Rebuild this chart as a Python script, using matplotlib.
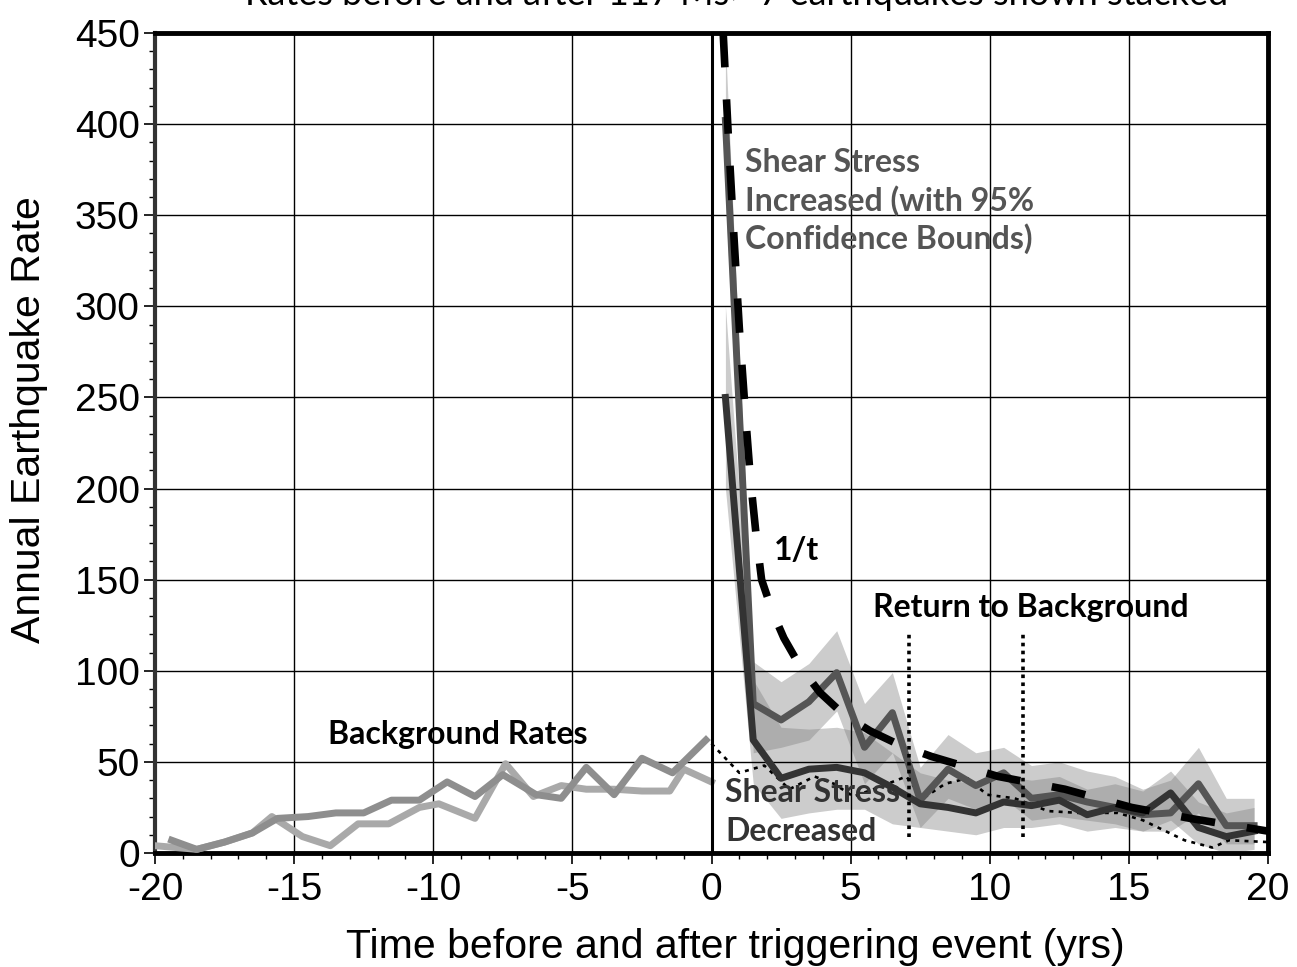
import matplotlib
matplotlib.use("Agg")
import matplotlib.pyplot as plt
from matplotlib.ticker import MultipleLocator

plt.rcParams['axes.unicode_minus'] = False

# background rates before the triggering event (two stacked sets)
bg_light_t = [-20, -18.5, -17.5, -16.5, -15.8, -14.7, -13.7, -12.7, -11.6, -10.5, -9.8,
              -8.5, -7.4, -6.4, -5.4, -4.5, -3.5, -2.5, -1.5, -1.0, 0.0]
bg_light_v = [4, 2, 6, 11, 20, 9, 4, 16, 16, 25, 27, 19, 49, 31, 37, 35, 35, 34, 34, 46, 39]
bg_dark_t = [-19.4, -18.5, -17.5, -16.5, -15.6, -14.5, -13.5, -12.5, -11.5, -10.5, -9.5,
             -8.5, -7.5, -6.3, -5.4, -4.5, -3.5, -2.5, -1.4, -0.2]
bg_dark_v = [7, 2, 6, 11, 19, 20, 22, 22, 29, 29, 39, 31, 43, 32, 30, 47, 32, 52, 44, 62]

# rates after the event, yearly bins
t_post = [0.5, 1.5, 2.5, 3.5, 4.5, 5.5, 6.5, 7.5, 8.5, 9.5,
          10.5, 11.5, 12.5, 13.5, 14.5, 15.5, 16.5, 17.5, 18.5, 19.5]
inc = [402, 82, 73, 83, 99, 58, 77, 29, 46, 37, 44, 30, 32, 28, 25, 21, 22, 38, 15, 15]
inc_up = [445, 105, 94, 104, 122, 82, 99, 47, 65, 55, 58, 48, 50, 45, 42, 35, 40, 58, 30, 30]
inc_lo = [360, 55, 58, 62, 78, 38, 55, 14, 30, 24, 30, 18, 20, 18, 16, 12, 12, 22, 5, 5]
dec = [250, 62, 41, 46, 47, 44, 36, 27, 25, 22, 28, 26, 29, 21, 25, 22, 33, 14, 9, 12]
dec_up = [300, 95, 69, 68, 69, 66, 55, 44, 40, 38, 42, 40, 42, 35, 38, 34, 45, 28, 22, 25]
dec_lo = [200, 38, 19, 22, 24, 24, 16, 14, 12, 10, 14, 14, 16, 12, 14, 12, 18, 5, 0, 2]

# 1/t decay curve
fit_t = [0.42, 0.6, 0.8, 1.0, 1.2, 1.4, 1.6, 1.8, 2.2, 2.6, 3.2, 3.9, 4.75, 5.7,
         6.8, 7.9, 9.0, 10.3, 12.7, 15.1, 17.2, 20.0]
fit_v = [450, 395, 340, 288, 245, 205, 175, 150, 132, 118, 102, 88, 76, 67,
         59, 53, 48, 42, 35, 25, 19, 12]

# thin dotted series
dot_t = [0.0, 1.0, 1.9, 2.8, 3.7, 4.4, 5.1, 6.0, 7.0, 7.6, 8.4, 9.2, 9.9, 10.9,
         12.1, 13.2, 14.6, 15.5, 17.0, 18.0, 18.6, 20.0]
dot_v = [60, 44, 48, 35, 42, 38, 31, 36, 42, 30, 38, 41, 32, 30,
         23, 22, 22, 18, 7, 3, 7, 6]

# "return to background" markers
return_t = [7.1, 11.2]

fig = plt.figure(figsize=(12.97, 9.67), dpi=100)
ax = fig.add_axes([155 / 1297, 1 - 853 / 967, 1113 / 1297, 820 / 967])

# confidence bands
ax.fill_between(t_post, dec_lo, dec_up, color='gray', alpha=0.4, lw=0, zorder=1)
ax.fill_between(t_post, inc_lo, inc_up, color='gray', alpha=0.4, lw=0, zorder=1)

ax.plot(bg_light_t, bg_light_v, color='#a9a9a9', lw=5, zorder=3)
ax.plot(bg_dark_t, bg_dark_v, color='#8e8e8e', lw=5, zorder=3)

ax.plot(dot_t, dot_v, color='black', lw=1.9, ls=(0, (1.5, 2)), zorder=3)
ax.plot(t_post, inc, color='#555555', lw=5, zorder=4)
ax.plot(t_post, dec, color='#333333', lw=5, zorder=4)
ax.plot(fit_t, fit_v, color='black', lw=5.5, ls=(0, (4.5, 4.2)), zorder=5)

for t in return_t:
    ax.plot([t, t], [9, 121], color='black', lw=2.6, ls=(0, (1, 1.2)), zorder=5)

ax.axvline(0, color='black', lw=2.2, zorder=5)

ax.set_xlim(-20, 20)
ax.set_ylim(0, 450)
ax.xaxis.set_major_locator(MultipleLocator(5))
ax.xaxis.set_minor_locator(MultipleLocator(1))
ax.yaxis.set_major_locator(MultipleLocator(50))
ax.yaxis.set_minor_locator(MultipleLocator(10))
ax.grid(which='major', color='black', lw=1.0)
ax.tick_params(which='major', direction='out', length=8, width=1.2, labelsize=28, pad=3)
ax.tick_params(axis='x', which='major', pad=6)
ax.tick_params(which='minor', direction='out', length=4, width=1.0)
for lab in ax.get_xticklabels() + ax.get_yticklabels():
    lab.set_family('Liberation Sans')

for side in ['top', 'bottom', 'right']:
    ax.spines[side].set_linewidth(3.5)
ax.spines['left'].set_linewidth(3)
ax.spines['left'].set_color('#333333')

ax.set_xlabel('Time before and after triggering event (yrs)', fontsize=29.5,
              family='Liberation Sans')
ax.set_ylabel('Annual Earthquake Rate', fontsize=29.5, family='Liberation Sans')
ax.xaxis.set_label_coords(0.521, -0.092)
ax.yaxis.set_label_coords(-0.096, 0.528)

fig.text(0.568, 1 - 5 / 967, 'Rates before and after 117 Ms> 7 earthquakes shown stacked',
         ha='center', va='baseline', fontsize=26, family='Lato')

lbl = dict(family='Lato', fontweight='bold', fontsize=23, zorder=6, ha='left', va='center')
for s, v in zip(['Shear Stress', 'Increased (with 95%', 'Confidence Bounds)'], [379, 358, 337]):
    ax.text(1.22, v, s, color='#555555', **lbl)
for s, v in zip(['Shear Stress', 'Decreased'], [33, 12]):
    ax.text(0.5, v, s, color='#333333', **lbl)
ax.text(-13.8, 65, 'Background Rates', color='black', **lbl)
ax.text(2.23, 166, '1/t', color='black', **lbl)
ax.text(5.8, 135, 'Return to Background', color='black', **lbl)

fig.savefig('out.png', dpi=100)
